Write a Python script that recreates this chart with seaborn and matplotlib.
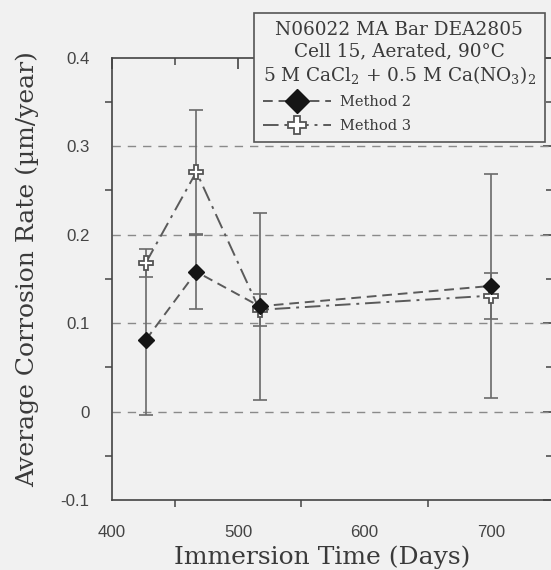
import numpy as np
import pandas as pd
import seaborn as sns
import matplotlib.pyplot as plt
from matplotlib.lines import Line2D

# Measured corrosion rates (um/year) with their +/- uncertainty
days = [427, 467, 517, 700]
method2_rate = [0.081, 0.158, 0.119, 0.142]
method2_err = [0.085, 0.042, 0.106, 0.127]
method3_rate = [0.168, 0.271, 0.115, 0.131]
method3_err = [0.016, 0.070, 0.018, 0.026]

method_names = ["Method 2", "Method 3"]
x_ticks = [400, 500, 600, 700]
x_minor = [450, 550, 650, 750]
y_ticks = [-0.1, 0.0, 0.1, 0.2, 0.3, 0.4]
y_tick_labels = ["-0.1", "0", "0.1", "0.2", "0.3", "0.4"]
y_minor = [-0.05, 0.05, 0.15, 0.25, 0.35]
grid_levels = [0.0, 0.1, 0.2, 0.3]
legend_title = ("N06022 MA Bar DEA2805\n"
                "Cell 15, Aerated, 90\u00b0C\n"
                "5 M CaCl$_2$ + 0.5 M Ca(NO$_3$)$_2$")

sns.set_theme(style="white")
plt.rcParams["font.family"] = ["DejaVu Serif"]
plt.rcParams["mathtext.fontset"] = "dejavuserif"

BG = "#f1f1f1"
INK = "#3a3a3a"
LINE = "#5a5a5a"

df = pd.DataFrame({
    "Days": days * 2,
    "Rate": method2_rate + method3_rate,
    "Err": method2_err + method3_err,
    "Method": [method_names[0]] * len(days) + [method_names[1]] * len(days),
})

fig = plt.figure(figsize=(5.51, 5.70), dpi=100, facecolor=BG)
W, H = 551, 570
left_px, right_px, top_px, bot_px = 111.7, 554.0, 57.7, 500.0
ax = fig.add_axes([left_px / W, 1 - bot_px / H,
                   (right_px - left_px) / W, (bot_px - top_px) / H])
ax.set_facecolor(BG)
ax.set_xlim(400, 750)
ax.set_ylim(-0.1, 0.4)

# dashed reference levels
for lv in grid_levels:
    ax.axhline(lv, color="#8a8a8a", lw=1.0, ls=(0, (6, 5)), zorder=1)

styles = {
    "Method 3": dict(ls=(0, (8, 3, 1.5, 3)), marker="P", ms=10,
                     mfc="white", mec="#555555", mew=1.3),
    "Method 2": dict(ls=(0, (5, 3)), marker="D", ms=8,
                     mfc="#151515", mec="#151515", mew=1.0),
}

for name in ["Method 3", "Method 2"]:
    sub = df[df["Method"] == name]
    ax.errorbar(sub["Days"], sub["Rate"], yerr=sub["Err"], fmt="none",
                ecolor="#6a6a6a", elinewidth=1.2, capsize=5, capthick=1.2,
                zorder=2)
    st = styles[name]
    sns.lineplot(data=sub, x="Days", y="Rate", ax=ax, estimator=None,
                 color=LINE, lw=1.4, linestyle=st["ls"], marker=st["marker"],
                 markersize=st["ms"], markerfacecolor=st["mfc"],
                 markeredgecolor=st["mec"], markeredgewidth=st["mew"],
                 legend=False, zorder=3)

# axes styling
for side in ["left", "bottom", "top", "right"]:
    ax.spines[side].set_color("#444444")
    ax.spines[side].set_linewidth(1.2)

ax.set_xticks(x_ticks)
ax.set_xticks(x_minor, minor=True)
ax.set_yticks(y_ticks)
ax.set_yticklabels(y_tick_labels)
ax.set_yticks(y_minor, minor=True)
ax.tick_params(which="major", direction="out", length=10, width=1.2,
               color="#444444", labelcolor="#444444", labelsize=12.2)
ax.tick_params(axis="x", which="major", pad=8)
ax.tick_params(axis="y", which="major", pad=6)
ax.tick_params(which="minor", direction="out", length=5, width=1.1,
               color="#444444", bottom=True, left=True)
for lab in ax.get_xticklabels() + ax.get_yticklabels():
    lab.set_family("Liberation Sans")

top = ax.secondary_xaxis("top")
top.set_xticks(x_ticks)
top.set_xticks(x_minor, minor=True)
top.tick_params(which="major", direction="in", length=8, width=1.2,
                color="#444444", labeltop=False)
top.tick_params(which="minor", direction="in", length=5, width=1.1,
                color="#444444")
top.spines["top"].set_visible(False)
right = ax.secondary_yaxis("right")
right.set_yticks(y_ticks)
right.set_yticks(y_minor, minor=True)
right.tick_params(which="major", direction="in", length=8, width=1.2,
                  color="#444444", labelright=False)
right.tick_params(which="minor", direction="in", length=6, width=1.1,
                  color="#444444")
right.spines["right"].set_visible(False)

ax.set_xlabel("Immersion Time (Days)", fontsize=18, color=INK)
ax.set_ylabel("Average Corrosion Rate (\u00b5m/year)", fontsize=18,
              color=INK)
ax.xaxis.set_label_coords(0.475, -0.102)
ax.yaxis.set_label_coords(-0.165, 0.522)

handles = [
    Line2D([], [], color=LINE, lw=1.4, ls=(0, (5, 3)), marker="D", ms=12,
           mfc="#151515", mec="#151515"),
    Line2D([], [], color=LINE, lw=1.4, ls=(0, (8, 3, 1.5, 3)), marker="P",
           ms=13, mfc="white", mec="#555555", mew=1.3),
]
leg = fig.legend(handles, method_names, title=legend_title,
                 loc="upper left", bbox_to_anchor=(254 / W, 1 - 12.7 / H),
                 frameon=True, fancybox=False, framealpha=1,
                 facecolor=BG, edgecolor="#555555", fontsize=10.5,
                 title_fontsize=13.3, handlelength=4.7, handletextpad=0.6,
                 borderpad=0.6, labelspacing=0.66, borderaxespad=0,
                 alignment="left")
leg.get_frame().set_linewidth(1.2)
leg.get_title().set_multialignment("center")
leg.get_title().set_color(INK)
for t in leg.get_texts():
    t.set_color(INK)
leg.set_zorder(10)

fig.savefig("out.png", dpi=100, facecolor=BG)
